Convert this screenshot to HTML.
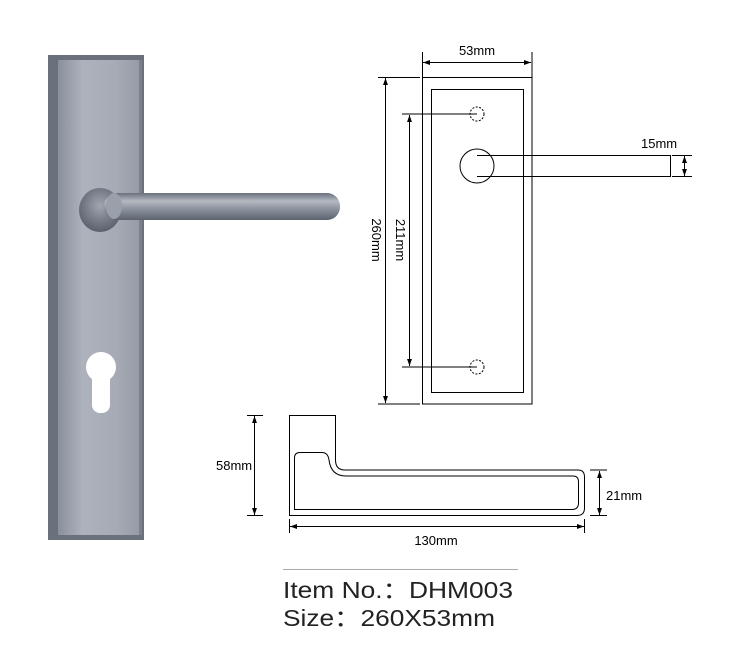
<!DOCTYPE html>
<html><head><meta charset="utf-8"><style>
html,body{margin:0;padding:0;background:#fff;}
svg{display:block;}
</style></head><body>
<svg width="743" height="668" viewBox="0 0 743 668" xmlns="http://www.w3.org/2000/svg" font-family="Liberation Sans, Arial, sans-serif">
<defs>
<linearGradient id="pl" x1="0" x2="1" y1="0" y2="0">
<stop offset="0" stop-color="#8a909c"/><stop offset="0.3" stop-color="#adb2bc"/><stop offset="0.7" stop-color="#a6abb5"/><stop offset="1" stop-color="#969ba6"/>
</linearGradient>
<linearGradient id="bar" x1="0" x2="0" y1="0" y2="1">
<stop offset="0" stop-color="#6a707c"/><stop offset="0.3" stop-color="#b4b9c2"/><stop offset="0.6" stop-color="#8b919d"/><stop offset="1" stop-color="#5d636e"/>
</linearGradient>
<radialGradient id="ros" cx="0.5" cy="0.4" r="0.6">
<stop offset="0" stop-color="#a0a5b0"/><stop offset="1" stop-color="#5a606b"/>
</radialGradient>
<marker id="a" viewBox="0 0 10 10" refX="10" refY="5" markerWidth="7" markerHeight="7" orient="auto-start-reverse"><path d="M0,1.5 L10,5 L0,8.5z" fill="#000"/></marker>
</defs>
<rect x="48" y="55" width="96" height="485" fill="#6a707c"/>
<rect x="58" y="60" width="82" height="475" fill="url(#pl)"/>
<rect x="139" y="60" width="3" height="475" fill="#7a808c"/>
<circle cx="101" cy="367" r="15" fill="#fff"/>
<rect x="92" y="367" width="18" height="46" rx="8" fill="#fff"/>
<ellipse cx="100" cy="210" rx="21" ry="22" fill="url(#ros)"/>
<rect x="104" y="193" width="236" height="27" rx="13" fill="url(#bar)"/>
<ellipse cx="114" cy="206" rx="8" ry="13" fill="#9aa0aa"/>
<g fill="none" stroke="#000" stroke-width="1">
<rect x="422.5" y="77.5" width="109.5" height="326.5"/>
<rect x="431.5" y="89.5" width="92" height="303"/>
<line x1="422.5" y1="52" x2="422.5" y2="77"/><line x1="532" y1="52" x2="532" y2="77"/>
<line x1="423" y1="62.5" x2="531" y2="62.5" marker-start="url(#a)" marker-end="url(#a)"/>
<line x1="378" y1="77.5" x2="420" y2="77.5"/><line x1="378" y1="404" x2="420" y2="404"/>
<line x1="385.5" y1="78" x2="385.5" y2="403" marker-start="url(#a)" marker-end="url(#a)"/>
<line x1="402" y1="114" x2="477" y2="114"/><line x1="402" y1="367" x2="477" y2="367"/>
<line x1="409.5" y1="115" x2="409.5" y2="366" marker-start="url(#a)" marker-end="url(#a)"/>
<circle cx="477" cy="114" r="7" stroke-dasharray="2 1.5"/>
<circle cx="477" cy="367" r="7" stroke-dasharray="2 1.5"/>
<circle cx="477" cy="166" r="17"/>
<path d="M477 155.5 H670.5 V176.5 H477"/>
<line x1="672" y1="155.5" x2="692" y2="155.5"/><line x1="672" y1="176.5" x2="692" y2="176.5"/>
<line x1="684.5" y1="156" x2="684.5" y2="176" marker-start="url(#a)" marker-end="url(#a)"/>
</g>
<text x="477" y="55" font-size="13" text-anchor="middle">53mm</text>
<text x="641" y="148" font-size="13">15mm</text>
<text transform="translate(372,240) rotate(90)" font-size="13" text-anchor="middle">260mm</text>
<text transform="translate(396,240) rotate(90)" font-size="13" text-anchor="middle">211mm</text>
<g fill="none" stroke="#000" stroke-width="1">
<path d="M289.5 415.5 H335.5 V460 Q335.5 470 345 470 H578 Q584.5 470 584.5 477 V508 Q584.5 515.5 577 515.5 H289.5 Z"/>
<path d="M294.5 509.5 V458 Q294.5 452.5 300 452.5 H322 Q328 452.5 329 460 Q331 476 346 476 H573 Q578.5 476 578.5 482 V503 Q578.5 509.5 572 509.5 Z"/>
<line x1="247" y1="415.5" x2="263" y2="415.5"/><line x1="247" y1="515.5" x2="263" y2="515.5"/>
<line x1="254.5" y1="416" x2="254.5" y2="515" marker-start="url(#a)" marker-end="url(#a)"/>
<line x1="590" y1="470" x2="607" y2="470"/><line x1="590" y1="515.5" x2="607" y2="515.5"/>
<line x1="599.5" y1="471" x2="599.5" y2="515" marker-start="url(#a)" marker-end="url(#a)"/>
<line x1="289.5" y1="519" x2="289.5" y2="533"/><line x1="584.5" y1="519" x2="584.5" y2="533"/>
<line x1="290" y1="526.5" x2="584" y2="526.5" marker-start="url(#a)" marker-end="url(#a)"/>
</g>
<text x="216" y="470" font-size="13">58mm</text>
<text x="606" y="500" font-size="13">21mm</text>
<text x="436" y="545" font-size="13" text-anchor="middle">130mm</text>
<line x1="283" y1="569.5" x2="518" y2="569.5" stroke="#aaa" stroke-width="1"/>
<text x="283" y="598" font-size="23" fill="#222" textLength="230" lengthAdjust="spacingAndGlyphs">Item No.：DHM003</text>
<text x="283" y="626" font-size="23" fill="#222" textLength="212" lengthAdjust="spacingAndGlyphs">Size：260X53mm</text>
</svg>
</body></html>
